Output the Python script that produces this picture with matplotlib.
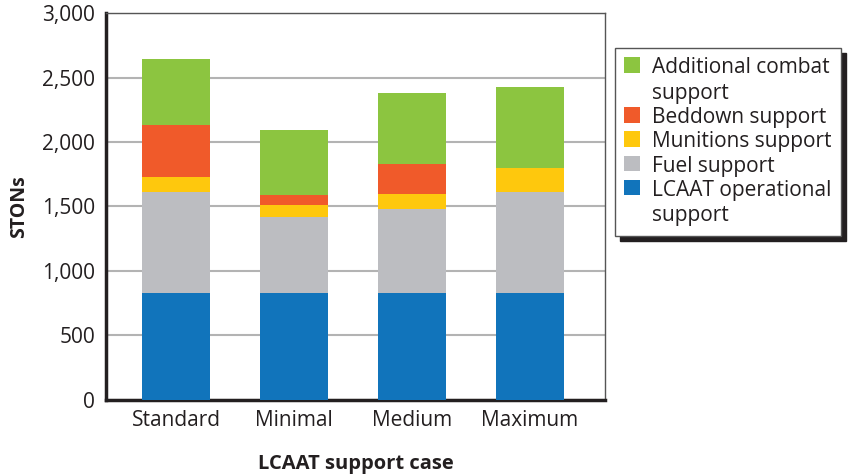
import numpy as np
import matplotlib
matplotlib.use("Agg")
import matplotlib.pyplot as plt

plt.rcParams['font.family'] = ['Open Sans', 'DejaVu Sans']

cases = ["Standard", "Minimal", "Medium", "Maximum"]
lcaat_ops = [828, 828, 828, 828]
fuel = [787, 594, 656, 784]
munitions = [117, 86, 110, 185]
beddown = [401, 78, 234, 0]
combat = [508, 508, 555, 633]

series = [
    ("LCAAT operational\nsupport", lcaat_ops, "#1174bb"),
    ("Fuel support", fuel, "#bcbdc1"),
    ("Munitions support", munitions, "#fec80d"),
    ("Beddown support", beddown, "#f05a2a"),
    ("Additional combat\nsupport", combat, "#8cc540"),
]

fig = plt.figure(figsize=(8.5, 4.75), dpi=100)
ax = fig.add_axes([0.1247, 0.158, 0.587, 0.8146])

x = np.arange(len(cases))
bottom = np.zeros(len(cases))
handles = []
for label, vals, color in series:
    b = ax.bar(x, vals, width=0.576, bottom=bottom, color=color, label=label, zorder=3)
    handles.append(b)
    bottom += np.array(vals)

ax.set_ylim(0, 3000)
ax.set_xlim(-0.593, 3.636)
ax.set_yticks(np.arange(0, 3001, 500))
ax.set_yticklabels([f"{v:,}" for v in range(0, 3001, 500)])
ax.set_xticks(x)
ax.set_xticklabels(cases)
ax.tick_params(axis='both', length=0, labelsize=15, colors='#231f20')
ax.tick_params(axis='x', pad=7)
ax.tick_params(axis='y', pad=8)
ax.yaxis.grid(True, color='#b3b3b3', linewidth=1.5, zorder=0)
ax.set_axisbelow(True)

for s in ['left', 'bottom']:
    ax.spines[s].set_linewidth(2.5)
    ax.spines[s].set_color('#231f20')
for s in ['top', 'right']:
    ax.spines[s].set_linewidth(1)
    ax.spines[s].set_color('#555555')

ax.set_ylabel("STONs", fontsize=14, fontweight='bold', labelpad=9, color='#231f20')
ax.set_xlabel("LCAAT support case", fontsize=14.5, fontweight='bold', labelpad=17, color='#231f20')

leg = fig.legend(handles[::-1], [s[0] for s in series][::-1],
                 loc='upper left', bbox_to_anchor=(0.7235, 0.899),
                 fontsize=15, frameon=True, fancybox=False,
                 shadow={'color': '#231f20', 'alpha': 1, 'ox': 3.5, 'oy': -3.5},
                 handlelength=0.75, handleheight=0.75, handletextpad=0.6,
                 labelspacing=0.15, borderpad=0.45, borderaxespad=0)
leg.get_frame().set_edgecolor('#555555')
leg.get_frame().set_linewidth(1)
leg.get_frame().set_facecolor('white')
for t in leg.get_texts():
    t.set_color('#231f20')
    t.set_linespacing(1.3)
# put the swatch next to the first line of two-line labels
for col in leg._legend_handle_box.get_children():
    for row in col.get_children():
        row.align = 'top'

fig.savefig("out.png", dpi=100)
